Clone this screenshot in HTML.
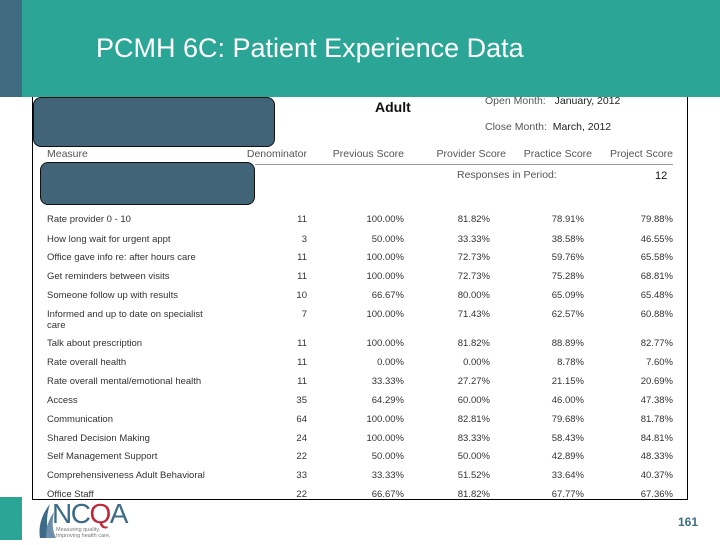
<!DOCTYPE html>
<html><head><meta charset="utf-8"><style>
body{margin:0;width:720px;height:540px;position:relative;overflow:hidden;background:#fff;font-family:"Liberation Sans",sans-serif}
.a{position:absolute;white-space:nowrap}
.t{font-size:9.5px;color:#333}
.h{font-size:10.5px;color:#555}
</style></head><body>
<div class="a" style="left:22px;top:0;width:698px;height:97px;background:#2ba596"></div>
<div class="a" style="left:0;top:0;width:22px;height:97px;background:#3f6a80"></div>
<div class="a" style="left:0;top:497px;width:22px;height:43px;background:#2ba596"></div>
<div class="a" style="left:96px;top:33px;font-size:27px;color:#fff">PCMH 6C: Patient Experience Data</div>
<div class="a" style="left:32px;top:97px;width:654px;height:402px;border:1px solid #000;border-top:none"></div>
<div class="a" style="left:33px;top:97px;width:240px;height:48px;background:#426479;border:1px solid #111;border-radius:8px"></div>
<div class="a" style="left:40px;top:162px;width:213px;height:41px;background:#426479;border:1px solid #111;border-radius:8px"></div>
<div class="a" style="left:375px;top:99px;font-size:14px;font-weight:bold;color:#111">Adult</div>
<div class="a h" style="left:485px;top:95px">Open Month: <span style="color:#222;margin-left:6px">January, 2012</span></div>
<div class="a h" style="left:485px;top:121px">Close Month: <span style="color:#222;margin-left:3px">March, 2012</span></div>
<div class="a" style="left:255px;top:164px;width:418px;height:1px;background:#999"></div>
<div class="a h" style="left:457px;top:169px">Responses in Period:</div>
<div class="a" style="left:655px;top:170px;font-size:11px;color:#111">12</div>
<div id="tbl"></div>
<div class="a" style="left:36px;top:500px;width:95px;height:40px">
<svg width="95" height="40"><path d="M4 38 C2 26 6 14 14 4 C10 16 10 28 14 38Z" fill="#3d6b88"/><path d="M10 38 C10 28 12 20 18 12 C16 22 16 30 20 38Z" fill="#6b8fa8"/></svg>
<span class="a" style="left:16px;top:-2px;font-size:28px;color:#3d6b88;letter-spacing:-1.5px">NC<span style="color:#c0283a">Q</span>A</span>
<span class="a" style="left:20px;top:27px;font-size:5.5px;color:#777;line-height:6px">Measuring quality.<br>Improving health care.</span></div>
<div class="a" style="left:678px;top:515px;font-size:12px;font-weight:bold;color:#3a6e82">161</div>
<script>
const headers=["Measure","Denominator","Previous Score","Provider Score","Practice Score","Project Score"];
const measures=["Rate provider 0 - 10","How long wait for urgent appt","Office gave info re: after hours care","Get reminders between visits","Someone follow up with results","Informed and up to date on specialist","Talk about prescription","Rate overall health","Rate overall mental/emotional health","Access","Communication","Shared Decision Making","Self Management Support","Comprehensiveness Adult Behavioral","Office Staff"];
const denominators=["11","3","11","11","10","7","11","11","11","35","64","24","22","33","22"];
const previousScores=["100.00%","50.00%","100.00%","100.00%","66.67%","100.00%","100.00%","0.00%","33.33%","64.29%","100.00%","100.00%","50.00%","33.33%","66.67%"];
const providerScores=["81.82%","33.33%","72.73%","72.73%","80.00%","71.43%","81.82%","0.00%","27.27%","60.00%","82.81%","83.33%","50.00%","51.52%","81.82%"];
const practiceScores=["78.91%","38.58%","59.76%","75.28%","65.09%","62.57%","88.89%","8.78%","21.15%","46.00%","79.68%","58.43%","42.89%","33.64%","67.77%"];
const projectScores=["79.88%","46.55%","65.58%","68.81%","65.48%","60.88%","82.77%","7.60%","20.69%","47.38%","81.78%","84.81%","48.33%","40.37%","67.36%"];
const rowTops=[214,234,252,271,290,309,338,357,376,395,414,433,451,470,489];
const colRight=[307,404,490,584,673];
const hdrRight=[0,307,404,506,592,673];
const tbl=document.getElementById('tbl');
function add(txt,cls,name,left,right,top){const d=document.createElement('div');d.className='a '+cls;d.textContent=txt;


d.style.top=top+'px';if(right!==null){d.style.right=(720-right)+'px';}else d.style.left=left+'px';tbl.appendChild(d);}
headers.forEach((h,i)=>add(h,'h','column-header',47,i?hdrRight[i]:null,148));
const cols=[denominators,previousScores,providerScores,practiceScores,projectScores];
measures.forEach((m,r)=>{add(m,'t','measure-label',47,null,rowTops[r]);
if(r===5)add('care','t','measure-label-cont',47,null,rowTops[r]+11);
cols.forEach((c,j)=>add(c[r],'t','cell-value',0,colRight[j],rowTops[r]));});
</script>
</body></html>
